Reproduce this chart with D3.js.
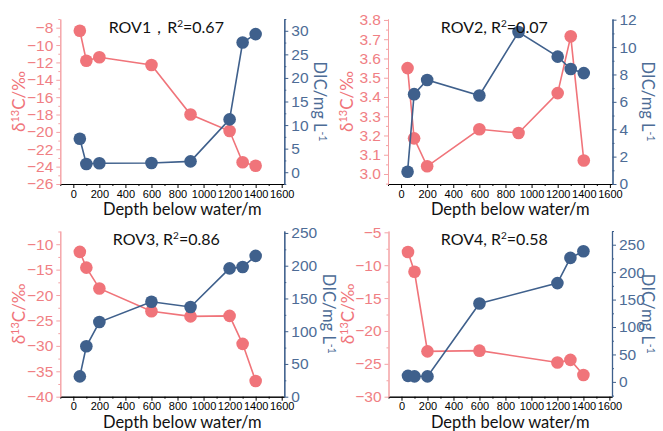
<!DOCTYPE html>
<html>
<head>
<meta charset="utf-8">
<script src="https://cdn.jsdelivr.net/npm/d3@7"></script>
<style>
    body { margin: 0; background: #fff; }
    svg { font-family: Lato, 'Open Sans', sans-serif; }
</style>
</head>
<body>
<div id="chart"></div>
<script>
// Depth of the sampling points (m).
const depth = [50, 100, 200, 600, 900, 1200, 1300, 1400];
const depth4 = [50, 100, 200, 600, 1200, 1300, 1400];

// delta13C (permil) and DIC (mg/L) for each site.
const rov1C = [-8.35, -11.8, -11.4, -12.3, -18.0, -19.9, -23.5, -23.9];
const rov1DIC = [7.1, 1.75, 1.9, 1.95, 2.3, 11.2, 27.5, 29.3];
const rov2C = [3.55, 3.185, 3.04, 3.232, 3.213, 3.42, 3.715, 3.07];
const rov2DIC = [0.9, 6.56, 7.6, 6.46, 11.1, 9.3, 8.4, 8.1];
const rov3C = [-11.5, -14.6, -18.7, -23.2, -24.2, -24.1, -29.6, -36.9];
const rov3DIC = [31, 77, 114, 145, 137, 196, 198, 215];
const rov4C = [-8.0, -11.0, -23.1, -23.0, -24.8, -24.4, -26.7];
const rov4DIC = [11, 10, 10, 143, 180, 226, 238];

// Titles.
const siteNames = ['ROV1，', 'ROV2, ', 'ROV3, ', 'ROV4, '];
const r2Values = ['0.67', '0.07', '0.86', '0.58'];

// Tick labels.
const xTicks = [0, 200, 400, 600, 800, 1000, 1200, 1400, 1600];
const cTicks1 = [-26, -24, -22, -20, -18, -16, -14, -12, -10, -8];
const dTicks1 = [0, 5, 10, 15, 20, 25, 30];
const cTicks2 = [3.0, 3.1, 3.2, 3.3, 3.4, 3.5, 3.6, 3.7, 3.8];
const dTicks2 = [0, 2, 4, 6, 8, 10, 12];
const cTicks3 = [-40, -35, -30, -25, -20, -15, -10];
const dTicks3 = [0, 50, 100, 150, 200, 250];
const cTicks4 = [-30, -25, -20, -15, -10, -5];
const dTicks4 = [0, 50, 100, 150, 200, 250];

const red = '#f0747a', redAxis = '#f4a2a5', redText = '#f07f84';
const blue = '#3f608c', blueText = '#4d6c96';
const xDomain = [-100, 1620];

const svg = d3.select('#chart').append('svg')
    .attr('width', 663)
    .attr('height', 431);

// Panel boxes and axis ranges.
const panels = [
    {box: [60.3, 284.3, 19, 184], depth: depth, c: rov1C, d: rov1DIC,
        cDomain: [-26, -7], dDomain: [-2.5, 32.5], cTicks: cTicks1, dTicks: dTicks1},
    {box: [388, 612.5, 19, 184], depth: depth, c: rov2C, d: rov2DIC,
        cDomain: [2.948, 3.805], dDomain: [0, 12.05], cTicks: cTicks2, dTicks: dTicks2, cFmt: '.1f'},
    {box: [60.3, 284.3, 231, 396.7], depth: depth, c: rov3C, d: rov3DIC,
        cDomain: [-40, -7.4], dDomain: [0, 253], cTicks: cTicks3, dTicks: dTicks3},
    {box: [388.5, 612, 231, 396.7], depth: depth4, c: rov4C, d: rov4DIC,
        cDomain: [-30, -4.8], dDomain: [-27, 275], cTicks: cTicks4, dTicks: dTicks4}
];

panels.forEach(function (p, i) { drawPanel(p, i); });

// Minor ticks halfway between the major ones, kept inside the domain.
function minorTicks(ticks, domain) {
    const step = ticks[1] - ticks[0];
    const out = ticks.map(function (t) { return t - step / 2; });
    out.push(ticks[ticks.length - 1] + step / 2);
    return out.filter(function (t) { return t >= domain[0] && t <= domain[1]; });
}

function drawPanel(p, i) {
    const [left, right, top, bottom] = p.box;
    const g = svg.append('g');
    const x = d3.scaleLinear().domain(xDomain).range([left, right]);
    const yC = d3.scaleLinear().domain(p.cDomain).range([bottom, top]);
    const yD = d3.scaleLinear().domain(p.dDomain).range([bottom, top]);

    // Bottom axis.
    g.append('g')
        .attr('transform', 'translate(0,' + bottom + ')')
        .attr('color', '#000')
        .call(d3.axisBottom(x).tickValues(minorTicks(xTicks, xDomain))
            .tickSize(2).tickSizeOuter(0).tickFormat(''));
    const xAxis = g.append('g')
        .attr('transform', 'translate(0,' + bottom + ')')
        .attr('color', '#000')
        .call(d3.axisBottom(x).tickValues(xTicks).tickSize(4)
            .tickSizeOuter(0).tickPadding(2).tickFormat(d3.format('d')));
    xAxis.selectAll('text').attr('font-size', '11px').attr('font-family', 'inherit');

    // Left axis (delta13C).
    g.append('g')
        .attr('transform', 'translate(' + left + ',0)')
        .attr('color', redAxis)
        .call(d3.axisLeft(yC).tickValues(minorTicks(p.cTicks, p.cDomain))
            .tickSize(2).tickSizeOuter(0).tickFormat(''));
    const cAxis = g.append('g')
        .attr('transform', 'translate(' + left + ',0)')
        .attr('color', redAxis)
        .call(d3.axisLeft(yC).tickValues(p.cTicks).tickSize(4).tickSizeOuter(0)
            .tickPadding(3).tickFormat(p.cFmt ? d3.format(p.cFmt) : d3.format('d')));
    cAxis.selectAll('text').attr('font-size', '15.5px').attr('font-family', 'inherit')
        .attr('fill', redText);

    // Right axis (DIC).
    g.append('g')
        .attr('transform', 'translate(' + right + ',0)')
        .attr('color', blue)
        .call(d3.axisRight(yD).tickValues(minorTicks(p.dTicks, p.dDomain))
            .tickSize(2).tickSizeOuter(0).tickFormat(''));
    const dAxis = g.append('g')
        .attr('transform', 'translate(' + right + ',0)')
        .attr('color', blue)
        .call(d3.axisRight(yD).tickValues(p.dTicks).tickSize(4).tickSizeOuter(0)
            .tickPadding(3).tickFormat(d3.format('d')));
    dAxis.selectAll('text').attr('font-size', '15.5px').attr('font-family', 'inherit')
        .attr('fill', blueText);
    dAxis.select('.domain').attr('stroke-width', 1.3);

    // Red series.
    const line = d3.line();
    const cPts = p.depth.map(function (v, k) { return [x(v), yC(p.c[k])]; });
    const dPts = p.depth.map(function (v, k) { return [x(v), yD(p.d[k])]; });
    g.append('path').attr('d', line(cPts)).attr('fill', 'none')
        .attr('stroke', red).attr('stroke-width', 1.6);
    g.selectAll('.cdot').data(cPts).enter().append('circle')
        .attr('cx', function (d) { return d[0]; })
        .attr('cy', function (d) { return d[1]; })
        .attr('r', 6.3).attr('fill', red);

    // Blue series.
    g.append('path').attr('d', line(dPts)).attr('fill', 'none')
        .attr('stroke', blue).attr('stroke-width', 1.6);
    g.selectAll('.ddot').data(dPts).enter().append('circle')
        .attr('cx', function (d) { return d[0]; })
        .attr('cy', function (d) { return d[1]; })
        .attr('r', 6.3).attr('fill', blue);

    // Panel title.
    const cx = (left + right) / 2;
    const title = g.append('text')
        .attr('x', cx - 6).attr('y', top + 14)
        .attr('text-anchor', 'middle')
        .attr('font-size', '16px').attr('fill', '#111');
    title.append('tspan').text(siteNames[i] + 'R');
    title.append('tspan').attr('dy', -6).attr('font-size', '10px').text('2');
    title.append('tspan').attr('dy', 6).text('=' + r2Values[i]);

    // X axis title.
    g.append('text')
        .attr('x', cx + 10).attr('y', bottom + 31)
        .attr('text-anchor', 'middle')
        .attr('font-size', '16.5px').attr('fill', '#111')
        .text('Depth below water/m');

    // Left axis title.
    const cy = (top + bottom) / 2;
    const lt = g.append('text')
        .attr('transform', 'translate(' + (left - 35) + ',' + cy + ')rotate(-90)')
        .attr('text-anchor', 'middle')
        .attr('font-size', '17px').attr('fill', red);
    lt.append('tspan').text('δ');
    lt.append('tspan').attr('dy', -6).attr('font-size', '11px').text('13');
    lt.append('tspan').attr('dy', 6).text('C/‰');

    // Right axis title, placed after the widest tick label.
    let maxW = 0;
    dAxis.selectAll('text').each(function () {
        maxW = Math.max(maxW, this.getBBox().width);
    });
    const rx = Math.min(right + 12 + maxW, 642);
    const rt = g.append('text')
        .attr('transform', 'translate(' + rx + ',' + cy + ')rotate(90)')
        .attr('text-anchor', 'middle')
        .attr('font-size', '16.5px').attr('fill', blueText);
    rt.append('tspan').text('DIC/mg L');
    rt.append('tspan').attr('dy', -5).attr('font-size', '10.5px').text('-1');
}
</script>
</body>
</html>
